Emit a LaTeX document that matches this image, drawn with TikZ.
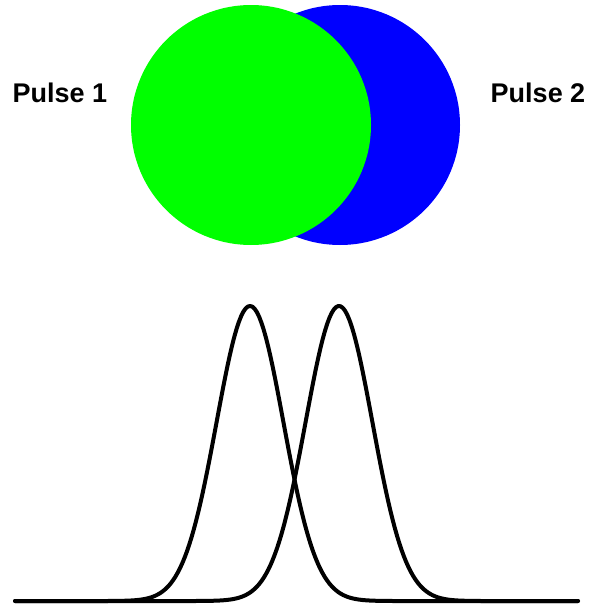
\documentclass[tikz,border=0pt]{standalone}
\usepackage{fontspec}
\setmainfont{Liberation Sans}
\usepackage{tikz}
\usetikzlibrary{positioning}
\definecolor{pulsegreen}{RGB}{0,255,0}
\definecolor{pulseblue}{RGB}{0,0,255}

\begin{document}
\begin{tikzpicture}[x=1pt, y=-1pt,
      disc/.style={circle, minimum size=240pt, inner sep=0pt},
      lbl/.style={font=\fontsize{27}{30}\selectfont\bfseries, inner sep=0pt},
      curve/.style={line width=4pt, line join=round, line cap=round}
    ]
      \useasboundingbox (0,0) rectangle (590,605);

      % --- overlapping beams, second pulse underneath ---
      \node[disc, fill=pulseblue]  (beamtwo) at (340,125) {};
      \node[disc, fill=pulsegreen] (beamone) at (251,125) {};

      \node[lbl] (pulseone) at (60,93)  {Pulse 1};
      \node[lbl] (pulsetwo) at (538,93) {Pulse 2};

      % --- temporal profiles ---
      \draw[curve] plot[domain=15:578, samples=250]
        (\x, {601-295*exp(-0.5*((\x-250)/33.4)^2)});
      \draw[curve] plot[domain=15:578, samples=250]
        (\x, {601-295*exp(-0.5*((\x-339)/33.4)^2)});
    \end{tikzpicture}
\end{document}
